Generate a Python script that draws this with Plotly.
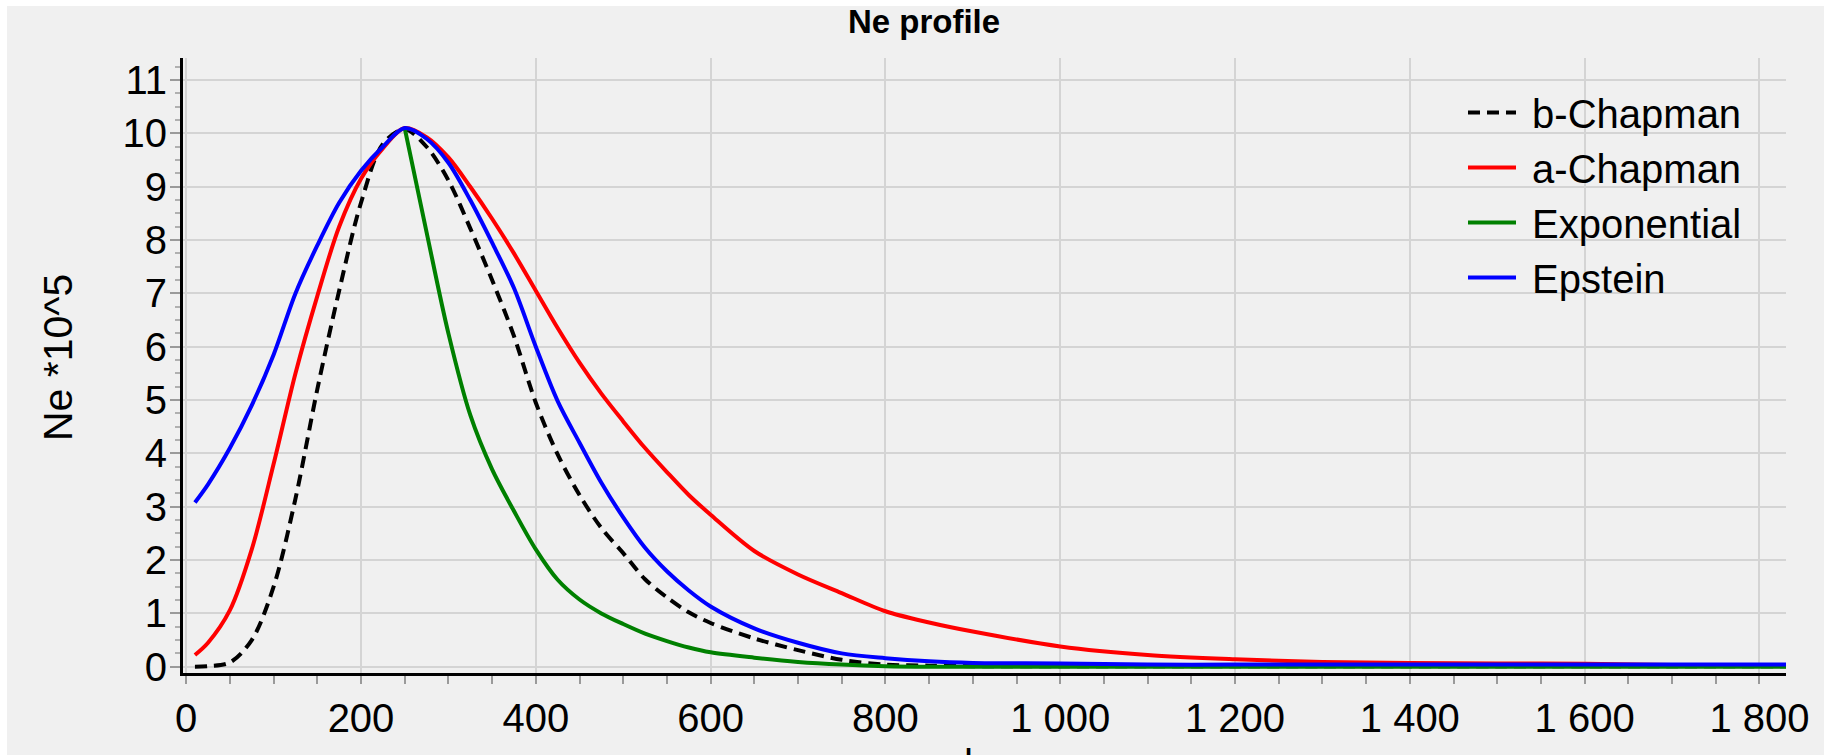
import plotly.graph_objects as go

# Altitude grid (km) shared by all profiles
altitude = [10, 25, 50, 75, 100, 125, 150, 175, 200, 225, 250, 275, 300, 325, 350,
            375, 400, 425, 450, 475, 500, 525, 550, 575, 600, 650, 700, 750, 800,
            850, 900, 1000, 1100, 1200, 1300, 1400, 1500, 1600, 1700, 1840]

# Electron density, Ne * 10^5
b_chapman = [0.0, 0.01, 0.08, 0.5, 1.5, 3.15, 5.2, 7.05, 8.7, 9.8, 10.08, 9.75, 9.12,
             8.22, 7.25, 6.2, 4.95, 3.98, 3.22, 2.6, 2.13, 1.64, 1.3, 1.02, 0.82, 0.53,
             0.31, 0.13, 0.04, 0.02, 0.01, 0.01, 0.01, 0.01, 0.01, 0.01, 0.01, 0.01,
             0.01, 0.01]
a_chapman = [0.22, 0.45, 1.06, 2.2, 3.8, 5.5, 6.95, 8.25, 9.15, 9.72, 10.1, 9.93, 9.55,
             9.0, 8.4, 7.75, 7.05, 6.35, 5.7, 5.12, 4.6, 4.1, 3.65, 3.22, 2.85, 2.17,
             1.73, 1.38, 1.04, 0.83, 0.66, 0.38, 0.22, 0.14, 0.09, 0.07, 0.06, 0.055,
             0.03, 0.03]
exponential = [None, None, None, None, None, None, None, None, None, None, 10.1, 8.15,
               6.25, 4.72, 3.7, 2.92, 2.2, 1.63, 1.26, 1.0, 0.8, 0.62, 0.48, 0.36, 0.27,
               0.17, 0.09, 0.04, 0.01, 0.0, 0.0, 0.0, 0.0, 0.0, 0.0, 0.0, 0.0, 0.0, 0.0,
               0.0]
epstein = [3.08, 3.42, 4.1, 4.9, 5.85, 7.0, 7.9, 8.7, 9.3, 9.75, 10.1, 9.9, 9.45, 8.75,
           7.95, 7.1, 6.0, 4.98, 4.2, 3.45, 2.8, 2.23, 1.79, 1.43, 1.13, 0.72, 0.45,
           0.25, 0.16, 0.1, 0.07, 0.06, 0.04, 0.04, 0.04, 0.04, 0.04, 0.04, 0.04, 0.04]

series_names = ["b-Chapman", "a-Chapman", "Exponential", "Epstein"]
series_values = [b_chapman, a_chapman, exponential, epstein]
series_colors = ["#000000", "#ff0000", "#008000", "#0000ff"]
series_dash = ["12px,7px", "solid", "solid", "solid"]

x_tickvals = [0, 200, 400, 600, 800, 1000, 1200, 1400, 1600, 1800]
x_ticktext = ["0", "200", "400", "600", "800", "1 000", "1 200", "1 400", "1 600", "1 800"]
y_tickvals = list(range(0, 12))

W, H = 1824, 755
L, R, T, B = 183, 38, 58, 82
pw, ph = W - L - R, H - T - B

FONT = "Liberation Sans, Arial, sans-serif"
BG = "#f0f0f0"
GRID = "#d4d4d4"

fig = go.Figure()
for name, vals, col, dash in zip(series_names, series_values, series_colors, series_dash):
    fig.add_trace(go.Scatter(
        x=altitude, y=vals, name="\u00a0" + name, mode="lines",
        line=dict(color=col, width=4, dash=dash, shape="spline", smoothing=0.9),
    ))

def px_x(p):
    return (p - L) / pw

def px_y(p):
    return (H - B - p) / ph

fig.update_layout(
    width=W, height=H,
    margin=dict(l=L, r=R, t=T, b=B),
    paper_bgcolor="white",
    plot_bgcolor=BG,
    font=dict(family=FONT, size=40, color="black"),
    title=dict(text="Ne profile", x=924 / W, xref="container", xanchor="center",
               y=1 - 21 / H, yref="container", yanchor="middle",
               font=dict(family=FONT, size=33, weight="bold", color="black")),
    showlegend=True,
    legend=dict(x=px_x(1463), y=px_y(80), xanchor="left", yanchor="top",
                bgcolor="rgba(0,0,0,0)", font=dict(size=40, family=FONT),
                itemwidth=48, tracegroupgap=0),
    shapes=[dict(type="rect", xref="paper", yref="paper", layer="below",
                 x0=px_x(7), x1=px_x(W + 5), y0=px_y(H + 5), y1=px_y(6),
                 fillcolor=BG, line=dict(width=0))],
    annotations=[
        dict(text="Ne *10^5", textangle=-90, xref="paper", yref="paper",
             x=px_x(58), y=px_y(358), xanchor="center", yanchor="middle",
             showarrow=False, font=dict(size=41, family=FONT)),
        dict(text="h", xref="paper", yref="paper", x=px_x(975), y=px_y(740),
             xanchor="center", yanchor="top", showarrow=False,
             font=dict(size=40, family=FONT)),
    ],
)

fig.update_xaxes(
    range=[-3.66, 1830.4], tickvals=x_tickvals, ticktext=x_ticktext,
    showline=True, linecolor="black", linewidth=3, mirror=False,
    showgrid=True, gridcolor=GRID, gridwidth=2, zeroline=False,
    ticks="outside", ticklen=8, tickwidth=2, tickcolor="#9a9a9a",
    minor=dict(dtick=50, tick0=0, ticks="outside", ticklen=8, tickwidth=2,
               tickcolor="#9a9a9a", showgrid=False),
    tickfont=dict(size=40, family=FONT),
)
fig.update_yaxes(
    range=[-0.118, 11.414], tickvals=y_tickvals,
    showline=True, linecolor="black", linewidth=3, mirror=False,
    showgrid=True, gridcolor=GRID, gridwidth=2, zeroline=False,
    ticks="outside", ticklen=10, tickwidth=2, tickcolor="#9a9a9a",
    minor=dict(dtick=0.25, tick0=0, ticks="outside", ticklen=5, tickwidth=2,
               tickcolor="#b0b0b0", showgrid=False),
    tickfont=dict(size=40, family=FONT), ticklabelstandoff=-5,
)

fig.write_html("out.html")
